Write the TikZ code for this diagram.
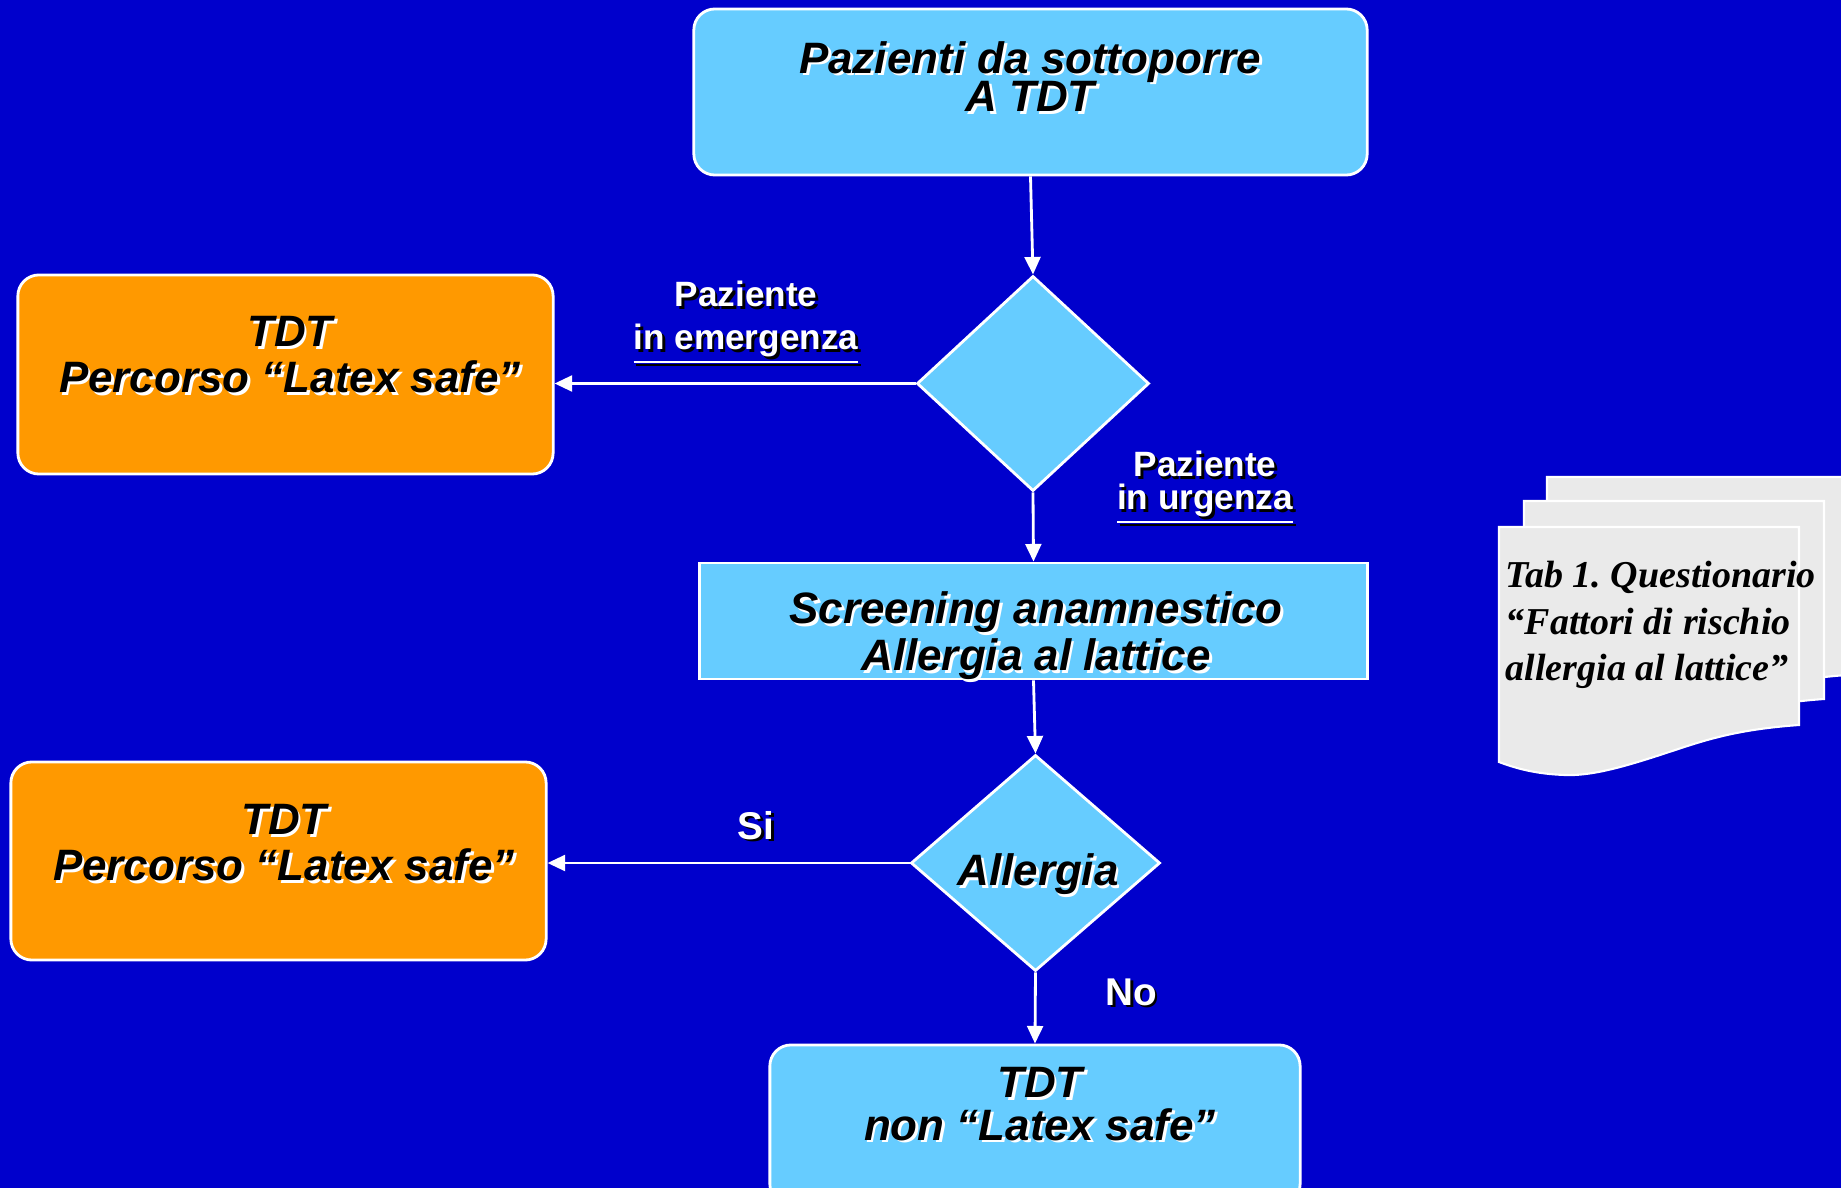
\documentclass[tikz,border=0pt]{standalone}
\usepackage{fontspec}
\setmainfont{Liberation Sans}
\newfontfamily\seriffont{Liberation Serif}
\usetikzlibrary{arrows.meta,shapes.geometric,positioning,calc}

\definecolor{bgblue}{RGB}{0,0,204}
\definecolor{boxblue}{RGB}{102,204,255}
\definecolor{boxorange}{RGB}{255,153,0}
\definecolor{sheetgray}{RGB}{234,234,234}

% text with a shadow: white behind black text, black behind white text
\newcommand{\wsh}[1]{\leavevmode\rlap{\kern0.8pt\raisebox{-0.8pt}{\color{white}#1}}#1}
\newcommand{\dsh}[1]{\leavevmode\rlap{\kern0.8pt\raisebox{-0.8pt}{\color{black}#1}}#1}

\tikzset{
	flowbox/.style={
		rectangle,
		rounded corners=6pt,
		draw=white, line width=0.8pt,
		inner sep=0pt,
	},
	squarebox/.style={
		rectangle,
		draw=white, line width=0.8pt,
		fill=boxblue,
		inner sep=0pt,
	},
	check/.style={
		diamond,
		draw=white, line width=0.8pt,
		fill=boxblue,
		inner sep=0pt,
	},
	boxtext/.style={
		inner sep=0pt,
		align=center,
		text=black,
		font=\fontsize{12.5}{12}\selectfont\bfseries\itshape,
	},
	lbl/.style={
		inner sep=0pt,
		align=center,
		text=white,
		font=\fontsize{10}{9}\selectfont\bfseries,
	},
	link/.style={
		color=white, line width=0.8pt,
		-{Triangle[length=5pt,width=4.5pt]},
	},
}

\begin{document}
\begin{tikzpicture}[x=0.01cm,y=-0.01cm]

	% background, also fixes the page size
	\fill[bgblue] (0,0) rectangle (1841,1188);
	\useasboundingbox (0,0) rectangle (1841,1188);

	% stack of sheets for the questionnaire
	\foreach \dx/\dy in {48/-50, 25/-26, 0/0} {
		\filldraw[fill=sheetgray, draw=white, line width=0.6pt, shift={(\dx,\dy)}]
		(1499,527) -- (1799,527) -- (1799,725)
		.. controls (1730,730) and (1700,742) .. (1660,755)
		.. controls (1620,768) and (1590,776) .. (1565,775)
		.. controls (1535,774) and (1515,768) .. (1499,762) -- cycle;
	}
	\node[inner sep=0pt, anchor=west, align=left,
	font=\seriffont\fontsize{10.8}{13.2}\selectfont\bfseries\itshape\frenchspacing] (TABtxt) at (1505,625)
	{Tab 1. Questionario\\“Fattori di rischio\\allergia al lattice”};

	% boxes and checks (text placed on top of them)
	\node[flowbox, fill=boxblue, minimum width=6.73cm, minimum height=1.66cm] (START) at (1030.5,92) {};
	\node[boxtext] (STARTtxt) at (1030,78) {\wsh{Pazienti da sottoporre}\\[-1pt]\wsh{A TDT}};

	\node[check, minimum width=2.32cm, minimum height=2.15cm] (CHECK1) at (1033,383.5) {};

	\node[flowbox, fill=boxorange, minimum width=5.35cm, minimum height=1.99cm] (EMERG) at (285.5,374.5) {};
	\node[boxtext] (EMERGtxt) at (290,356) {\wsh{TDT}\\[1pt]\wsh{Percorso “Latex safe”}};

	\node[squarebox, minimum width=6.67cm, minimum height=1.16cm] (SCREEN) at (1033.5,621) {};
	\node[boxtext] (SCREENtxt) at (1036,637) {\wsh{Screening anamnestico}\\\wsh{Allergia al lattice}};

	\node[check, minimum width=2.49cm, minimum height=2.16cm] (CHECK2) at (1035.5,863) {};
	\node[boxtext, anchor=base] (CHECK2txt) at (1038,886) {\wsh{Allergia}};

	\node[flowbox, fill=boxorange, minimum width=5.35cm, minimum height=1.98cm] (SAFE) at (278.5,861) {};
	\node[boxtext] (SAFEtxt) at (284,844) {\wsh{TDT}\\[1pt]\wsh{Percorso “Latex safe”}};

	\node[flowbox, fill=boxblue, minimum width=5.30cm, minimum height=1.60cm] (NOSAFE) at (1035,1125) {};
	\node[boxtext] (NOSAFEtxt) at (1040,1105.5) {\wsh{TDT}\\\wsh{non “Latex safe”}};

	% labels of the branches
	\node[lbl] (EMlbl) at (746,324) {\dsh{Paziente}\\[3.3pt]\dsh{\underline{in emergenza}}};
	\node[lbl] (URlbl) at (1205,489) {\dsh{Paziente}\\[0.5pt]\dsh{\underline{in urgenza}}};
	\node[lbl, font=\fontsize{11}{12}\selectfont\bfseries, anchor=base] (SIlbl) at (756,839) {\dsh{Si}};
	\node[lbl, font=\fontsize{11}{12}\selectfont\bfseries, anchor=base] (NOlbl) at (1131,1005) {\dsh{No}};

	% connectors
	\path[link]
	(START.south) edge (CHECK1.north)
	(CHECK1.south) edge (SCREEN.north)
	(SCREEN.south) edge (CHECK2.north)
	(CHECK2.south) edge (NOSAFE.north)
	(CHECK1.west) edge (CHECK1.west -| EMERG.east)
	(CHECK2.west) edge (CHECK2.west -| SAFE.east)
	; % END PATH

\end{tikzpicture}
\end{document}
